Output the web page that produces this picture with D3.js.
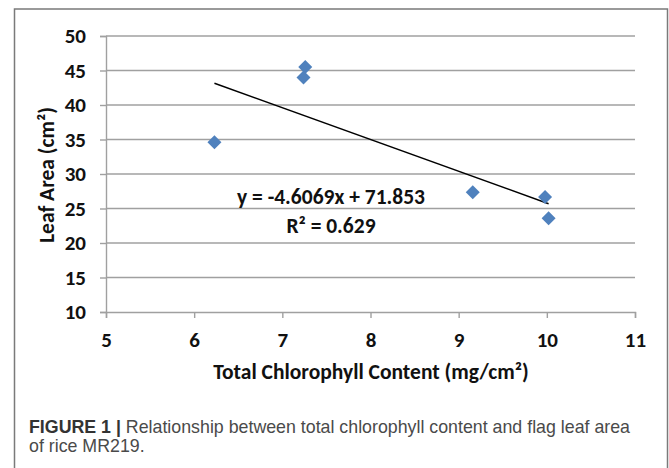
<!DOCTYPE html>
<html>
<head>
<meta charset="utf-8">
<script src="https://cdnjs.cloudflare.com/ajax/libs/d3/7.8.5/d3.min.js"></script>
<style>
    body { margin: 0; background: #fff; }
</style>
</head>
<body>
<div id="chart"></div>
<script>
// Data
var chlorophyll     =   [6.23, 7.26, 7.24, 9.16, 9.98, 10.02];
var leaf_area       =   [34.6, 45.5, 44.0, 27.35, 26.65, 23.6];
var x_ticks         =   [5, 6, 7, 8, 9, 10, 11];
var y_ticks         =   [10, 15, 20, 25, 30, 35, 40, 45, 50];
var slope           =   -4.6069;
var intercept       =   71.853;
var equation_text   =   'y = -4.6069x + 71.853';
var r2_text         =   'R² = 0.629';

var chart_width     =   669;
var chart_height    =   468;
var font            =   'Carlito, Lato, sans-serif';

var svg             =   d3.select( '#chart' )
    .append( 'svg' )
    .attr( 'width', chart_width )
    .attr( 'height', chart_height );

// outer frame (runs off the bottom of the picture)
svg.append( 'rect' )
    .attr( 'x', 14.5 )
    .attr( 'y', 9 )
    .attr( 'width', 653 )
    .attr( 'height', 480 )
    .attr( 'fill', 'none' )
    .attr( 'stroke', '#7a7a7a' )
    .attr( 'stroke-width', 1.5 );

//Create Scales
var x_scale = d3.scaleLinear()
                .domain([5, 11])
                .range([106, 635]);

var y_scale = d3.scaleLinear()
                .domain([10, 50])
                .range([312, 36]);

// horizontal gridlines
svg.selectAll( '.grid' )
    .data( y_ticks.slice(1) )
    .enter()
    .append( 'line' )
    .attr( 'class', 'grid' )
    .attr( 'x1', x_scale(5) )
    .attr( 'x2', x_scale(11) )
    .attr( 'y1', function( d ){ return y_scale(d); })
    .attr( 'y2', function( d ){ return y_scale(d); })
    .attr( 'stroke', '#a0a0a0' )
    .attr( 'stroke-width', 1.4 );

// axes
var y_axis = d3.axisLeft( y_scale )
    .tickValues( y_ticks )
    .tickFormat( d3.format( 'd' ) )
    .tickSize( 6 )
    .tickPadding( 14 );

var x_axis = d3.axisBottom( x_scale )
    .tickValues( x_ticks )
    .tickFormat( d3.format( 'd' ) )
    .tickSize( 6 )
    .tickPadding( 14 );

var gy = svg.append( 'g' )
    .attr( 'transform', 'translate(' + x_scale(5) + ',0)' )
    .call( y_axis );

var gx = svg.append( 'g' )
    .attr( 'transform', 'translate(0,' + y_scale(10) + ')' )
    .call( x_axis );

[gx, gy].forEach(function( g ){
    g.select( '.domain' ).attr( 'stroke', '#a0a0a0' ).attr( 'stroke-width', 1.4 );
    g.selectAll( '.tick line' ).attr( 'stroke', '#a0a0a0' ).attr( 'stroke-width', 1.4 );
    g.selectAll( 'text' )
        .attr( 'font-family', font )
        .attr( 'font-weight', 'bold' )
        .attr( 'font-size', 21 )
        .attr( 'fill', '#111' );
});
gy.selectAll( 'text' ).attr( 'dy', '0.33em' );

// trendline over the range of the data
var x_min = d3.min( chlorophyll );
var x_max = d3.max( chlorophyll );
svg.append( 'line' )
    .attr( 'x1', x_scale(x_min) )
    .attr( 'y1', y_scale(slope * x_min + intercept) )
    .attr( 'x2', x_scale(x_max) )
    .attr( 'y2', y_scale(slope * x_max + intercept) )
    .attr( 'stroke', '#000' )
    .attr( 'stroke-width', 1.4 );

// diamond markers
svg.selectAll( '.pt' )
    .data( chlorophyll )
    .enter()
    .append( 'path' )
    .attr( 'class', 'pt' )
    .attr( 'd', 'M0,-7L7,0L0,7L-7,0Z' )
    .attr( 'transform', function( d, i ){
        return 'translate(' + x_scale(d) + ',' + y_scale(leaf_area[i]) + ')';
    })
    .attr( 'fill', '#4f81bd' );

// regression label
svg.append( 'text' )
    .text( equation_text )
    .attr( 'x', 331 )
    .attr( 'y', 204 )
    .attr( 'text-anchor', 'middle' )
    .attr( 'font-family', font )
    .attr( 'font-weight', 'bold' )
    .attr( 'font-size', 21.5 )
    .attr( 'fill', '#111' );

svg.append( 'text' )
    .text( r2_text )
    .attr( 'x', 331 )
    .attr( 'y', 233 )
    .attr( 'text-anchor', 'middle' )
    .attr( 'font-family', font )
    .attr( 'font-weight', 'bold' )
    .attr( 'font-size', 21.5 )
    .attr( 'fill', '#111' );

// axis titles
svg.append( 'text' )
    .text( 'Total Chlorophyll Content (mg/cm²)' )
    .attr( 'x', 371 )
    .attr( 'y', 379 )
    .attr( 'text-anchor', 'middle' )
    .attr( 'font-family', font )
    .attr( 'font-weight', 'bold' )
    .attr( 'font-size', 21.5 )
    .attr( 'fill', '#111' );

svg.append( 'text' )
    .text( 'Leaf Area (cm²)' )
    .attr( 'transform', 'translate(54,175) rotate(-90)' )
    .attr( 'text-anchor', 'middle' )
    .attr( 'font-family', font )
    .attr( 'font-weight', 'bold' )
    .attr( 'font-size', 21.5 )
    .attr( 'fill', '#111' );

// caption
var cap = svg.append( 'text' )
    .attr( 'x', 29 )
    .attr( 'y', 433 )
    .attr( 'font-family', '"Liberation Sans", Arial, sans-serif' )
    .attr( 'font-size', 17.8 )
    .attr( 'fill', '#4a4a4a' );
cap.append( 'tspan' ).text( 'FIGURE 1 | ' ).attr( 'font-weight', 'bold' ).attr( 'fill', '#333' );
cap.append( 'tspan' ).text( 'Relationship between total chlorophyll content and flag leaf area' );

svg.append( 'text' )
    .text( 'of rice MR219.' )
    .attr( 'x', 29 )
    .attr( 'y', 452 )
    .attr( 'font-family', '"Liberation Sans", Arial, sans-serif' )
    .attr( 'font-size', 17.8 )
    .attr( 'fill', '#4a4a4a' );
</script>
</body>
</html>
